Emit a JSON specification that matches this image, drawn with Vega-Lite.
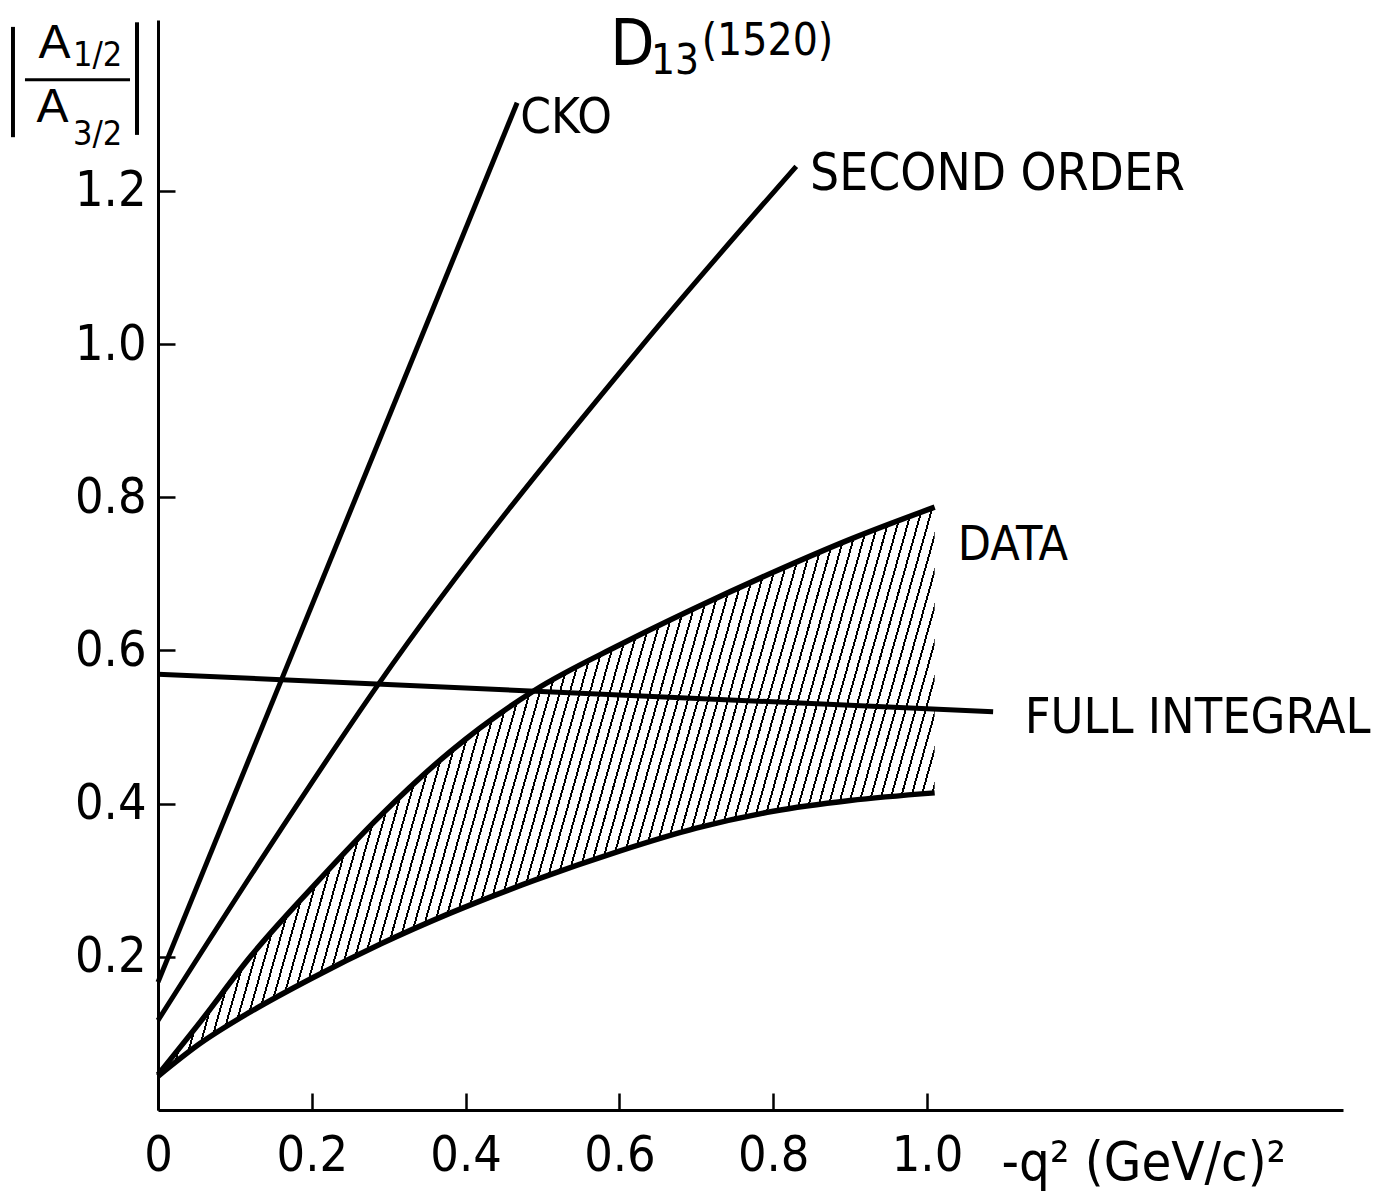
{
"$schema":"https://vega.github.io/schema/vega-lite/v6.json",
"width":1185,"height":1090,
"autosize":{"type":"none"},
"padding":{"left":158,"top":20,"right":50,"bottom":89},
"background":"white",
"config":{
 "view":{"stroke":null},
 "font":"DejaVu Sans Condensed, Liberation Sans, sans-serif",
 "axis":{"domainColor":"black","domainWidth":3,"tickColor":"black","tickWidth":2.5,"grid":false,"labelFont":"DejaVu Sans Condensed, Liberation Sans, sans-serif","labelFontSize":50,"labelColor":"black","title":null}
},
"datasets":{
 "band":[
  {"x":0,"lo":0.044,"hi":0.046},
  {"x":0.055,"lo":0.087,"hi":0.115},
  {"x":0.12,"lo":0.128,"hi":0.2},
  {"x":0.2,"lo":0.172,"hi":0.29},
  {"x":0.29,"lo":0.217,"hi":0.385},
  {"x":0.38,"lo":0.257,"hi":0.468},
  {"x":0.49,"lo":0.3,"hi":0.548},
  {"x":0.6,"lo":0.338,"hi":0.607},
  {"x":0.7,"lo":0.368,"hi":0.656},
  {"x":0.8,"lo":0.39,"hi":0.702},
  {"x":0.9,"lo":0.404,"hi":0.745},
  {"x":1.01,"lo":0.414,"hi":0.787}
 ],
 "curves":[
  {"s":"CKO","x":0,"y":0.167},{"s":"CKO","x":0.467,"y":1.315},
  {"s":"SO","x":0,"y":0.117},{"s":"SO","x":0.142,"y":0.339},{"s":"SO","x":0.286,"y":0.555},{"s":"SO","x":0.627,"y":0.995},{"s":"SO","x":0.83,"y":1.232},
  {"s":"FI","x":0,"y":0.569},{"s":"FI","x":1.086,"y":0.52}
 ]
},
"layer":[
 {"data":{"name":"band"},
  "mark":{"type":"area","interpolate":"monotone","stroke":null,
   "fill":{"gradient":"linear","x1":0.08,"y1":0,"x2":1.07,"y2":0.204,"stops":[
{"offset":0.125,"color":"#fff"},{"offset":0.125,"color":"#000"},{"offset":0.1275,"color":"#000"},{"offset":0.1275,"color":"#fff"},
{"offset":0.1375,"color":"#fff"},{"offset":0.1375,"color":"#000"},{"offset":0.14,"color":"#000"},{"offset":0.14,"color":"#fff"},
{"offset":0.15,"color":"#fff"},{"offset":0.15,"color":"#000"},{"offset":0.1525,"color":"#000"},{"offset":0.1525,"color":"#fff"},
{"offset":0.1625,"color":"#fff"},{"offset":0.1625,"color":"#000"},{"offset":0.165,"color":"#000"},{"offset":0.165,"color":"#fff"},
{"offset":0.175,"color":"#fff"},{"offset":0.175,"color":"#000"},{"offset":0.1775,"color":"#000"},{"offset":0.1775,"color":"#fff"},
{"offset":0.1875,"color":"#fff"},{"offset":0.1875,"color":"#000"},{"offset":0.19,"color":"#000"},{"offset":0.19,"color":"#fff"},
{"offset":0.2,"color":"#fff"},{"offset":0.2,"color":"#000"},{"offset":0.2025,"color":"#000"},{"offset":0.2025,"color":"#fff"},
{"offset":0.2125,"color":"#fff"},{"offset":0.2125,"color":"#000"},{"offset":0.215,"color":"#000"},{"offset":0.215,"color":"#fff"},
{"offset":0.225,"color":"#fff"},{"offset":0.225,"color":"#000"},{"offset":0.2275,"color":"#000"},{"offset":0.2275,"color":"#fff"},
{"offset":0.2375,"color":"#fff"},{"offset":0.2375,"color":"#000"},{"offset":0.24,"color":"#000"},{"offset":0.24,"color":"#fff"},
{"offset":0.25,"color":"#fff"},{"offset":0.25,"color":"#000"},{"offset":0.2525,"color":"#000"},{"offset":0.2525,"color":"#fff"},
{"offset":0.2625,"color":"#fff"},{"offset":0.2625,"color":"#000"},{"offset":0.265,"color":"#000"},{"offset":0.265,"color":"#fff"},
{"offset":0.275,"color":"#fff"},{"offset":0.275,"color":"#000"},{"offset":0.2775,"color":"#000"},{"offset":0.2775,"color":"#fff"},
{"offset":0.2875,"color":"#fff"},{"offset":0.2875,"color":"#000"},{"offset":0.29,"color":"#000"},{"offset":0.29,"color":"#fff"},
{"offset":0.3,"color":"#fff"},{"offset":0.3,"color":"#000"},{"offset":0.3025,"color":"#000"},{"offset":0.3025,"color":"#fff"},
{"offset":0.3125,"color":"#fff"},{"offset":0.3125,"color":"#000"},{"offset":0.315,"color":"#000"},{"offset":0.315,"color":"#fff"},
{"offset":0.325,"color":"#fff"},{"offset":0.325,"color":"#000"},{"offset":0.3275,"color":"#000"},{"offset":0.3275,"color":"#fff"},
{"offset":0.3375,"color":"#fff"},{"offset":0.3375,"color":"#000"},{"offset":0.34,"color":"#000"},{"offset":0.34,"color":"#fff"},
{"offset":0.35,"color":"#fff"},{"offset":0.35,"color":"#000"},{"offset":0.3525,"color":"#000"},{"offset":0.3525,"color":"#fff"},
{"offset":0.3625,"color":"#fff"},{"offset":0.3625,"color":"#000"},{"offset":0.365,"color":"#000"},{"offset":0.365,"color":"#fff"},
{"offset":0.375,"color":"#fff"},{"offset":0.375,"color":"#000"},{"offset":0.3775,"color":"#000"},{"offset":0.3775,"color":"#fff"},
{"offset":0.3875,"color":"#fff"},{"offset":0.3875,"color":"#000"},{"offset":0.39,"color":"#000"},{"offset":0.39,"color":"#fff"},
{"offset":0.4,"color":"#fff"},{"offset":0.4,"color":"#000"},{"offset":0.4025,"color":"#000"},{"offset":0.4025,"color":"#fff"},
{"offset":0.4125,"color":"#fff"},{"offset":0.4125,"color":"#000"},{"offset":0.415,"color":"#000"},{"offset":0.415,"color":"#fff"},
{"offset":0.425,"color":"#fff"},{"offset":0.425,"color":"#000"},{"offset":0.4275,"color":"#000"},{"offset":0.4275,"color":"#fff"},
{"offset":0.4375,"color":"#fff"},{"offset":0.4375,"color":"#000"},{"offset":0.44,"color":"#000"},{"offset":0.44,"color":"#fff"},
{"offset":0.45,"color":"#fff"},{"offset":0.45,"color":"#000"},{"offset":0.4525,"color":"#000"},{"offset":0.4525,"color":"#fff"},
{"offset":0.4625,"color":"#fff"},{"offset":0.4625,"color":"#000"},{"offset":0.465,"color":"#000"},{"offset":0.465,"color":"#fff"},
{"offset":0.475,"color":"#fff"},{"offset":0.475,"color":"#000"},{"offset":0.4775,"color":"#000"},{"offset":0.4775,"color":"#fff"},
{"offset":0.4875,"color":"#fff"},{"offset":0.4875,"color":"#000"},{"offset":0.49,"color":"#000"},{"offset":0.49,"color":"#fff"},
{"offset":0.5,"color":"#fff"},{"offset":0.5,"color":"#000"},{"offset":0.5025,"color":"#000"},{"offset":0.5025,"color":"#fff"},
{"offset":0.5125,"color":"#fff"},{"offset":0.5125,"color":"#000"},{"offset":0.515,"color":"#000"},{"offset":0.515,"color":"#fff"},
{"offset":0.525,"color":"#fff"},{"offset":0.525,"color":"#000"},{"offset":0.5275,"color":"#000"},{"offset":0.5275,"color":"#fff"},
{"offset":0.5375,"color":"#fff"},{"offset":0.5375,"color":"#000"},{"offset":0.54,"color":"#000"},{"offset":0.54,"color":"#fff"},
{"offset":0.55,"color":"#fff"},{"offset":0.55,"color":"#000"},{"offset":0.5525,"color":"#000"},{"offset":0.5525,"color":"#fff"},
{"offset":0.5625,"color":"#fff"},{"offset":0.5625,"color":"#000"},{"offset":0.565,"color":"#000"},{"offset":0.565,"color":"#fff"},
{"offset":0.575,"color":"#fff"},{"offset":0.575,"color":"#000"},{"offset":0.5775,"color":"#000"},{"offset":0.5775,"color":"#fff"},
{"offset":0.5875,"color":"#fff"},{"offset":0.5875,"color":"#000"},{"offset":0.59,"color":"#000"},{"offset":0.59,"color":"#fff"},
{"offset":0.6,"color":"#fff"},{"offset":0.6,"color":"#000"},{"offset":0.6025,"color":"#000"},{"offset":0.6025,"color":"#fff"},
{"offset":0.6125,"color":"#fff"},{"offset":0.6125,"color":"#000"},{"offset":0.615,"color":"#000"},{"offset":0.615,"color":"#fff"},
{"offset":0.625,"color":"#fff"},{"offset":0.625,"color":"#000"},{"offset":0.6275,"color":"#000"},{"offset":0.6275,"color":"#fff"},
{"offset":0.6375,"color":"#fff"},{"offset":0.6375,"color":"#000"},{"offset":0.64,"color":"#000"},{"offset":0.64,"color":"#fff"},
{"offset":0.65,"color":"#fff"},{"offset":0.65,"color":"#000"},{"offset":0.6525,"color":"#000"},{"offset":0.6525,"color":"#fff"},
{"offset":0.6625,"color":"#fff"},{"offset":0.6625,"color":"#000"},{"offset":0.665,"color":"#000"},{"offset":0.665,"color":"#fff"},
{"offset":0.675,"color":"#fff"},{"offset":0.675,"color":"#000"},{"offset":0.6775,"color":"#000"},{"offset":0.6775,"color":"#fff"},
{"offset":0.6875,"color":"#fff"},{"offset":0.6875,"color":"#000"},{"offset":0.69,"color":"#000"},{"offset":0.69,"color":"#fff"},
{"offset":0.7,"color":"#fff"},{"offset":0.7,"color":"#000"},{"offset":0.7025,"color":"#000"},{"offset":0.7025,"color":"#fff"},
{"offset":0.7125,"color":"#fff"},{"offset":0.7125,"color":"#000"},{"offset":0.715,"color":"#000"},{"offset":0.715,"color":"#fff"},
{"offset":0.725,"color":"#fff"},{"offset":0.725,"color":"#000"},{"offset":0.7275,"color":"#000"},{"offset":0.7275,"color":"#fff"},
{"offset":0.7375,"color":"#fff"},{"offset":0.7375,"color":"#000"},{"offset":0.74,"color":"#000"},{"offset":0.74,"color":"#fff"},
{"offset":0.75,"color":"#fff"},{"offset":0.75,"color":"#000"},{"offset":0.7525,"color":"#000"},{"offset":0.7525,"color":"#fff"},
{"offset":0.7625,"color":"#fff"},{"offset":0.7625,"color":"#000"},{"offset":0.765,"color":"#000"},{"offset":0.765,"color":"#fff"},
{"offset":0.775,"color":"#fff"},{"offset":0.775,"color":"#000"},{"offset":0.7775,"color":"#000"},{"offset":0.7775,"color":"#fff"},
{"offset":0.7875,"color":"#fff"},{"offset":0.7875,"color":"#000"},{"offset":0.79,"color":"#000"},{"offset":0.79,"color":"#fff"},
{"offset":0.8,"color":"#fff"},{"offset":0.8,"color":"#000"},{"offset":0.8025,"color":"#000"},{"offset":0.8025,"color":"#fff"},
{"offset":0.8125,"color":"#fff"},{"offset":0.8125,"color":"#000"},{"offset":0.815,"color":"#000"},{"offset":0.815,"color":"#fff"},
{"offset":0.825,"color":"#fff"},{"offset":0.825,"color":"#000"},{"offset":0.8275,"color":"#000"},{"offset":0.8275,"color":"#fff"},
{"offset":0.8375,"color":"#fff"},{"offset":0.8375,"color":"#000"},{"offset":0.84,"color":"#000"},{"offset":0.84,"color":"#fff"},
{"offset":0.85,"color":"#fff"},{"offset":0.85,"color":"#000"},{"offset":0.8525,"color":"#000"},{"offset":0.8525,"color":"#fff"},
{"offset":0.8625,"color":"#fff"},{"offset":0.8625,"color":"#000"},{"offset":0.865,"color":"#000"},{"offset":0.865,"color":"#fff"},
{"offset":0.875,"color":"#fff"},{"offset":0.875,"color":"#000"},{"offset":0.8775,"color":"#000"},{"offset":0.8775,"color":"#fff"},
{"offset":0.8875,"color":"#fff"},{"offset":0.8875,"color":"#000"},{"offset":0.89,"color":"#000"},{"offset":0.89,"color":"#fff"},
{"offset":0.9,"color":"#fff"},{"offset":0.9,"color":"#000"},{"offset":0.9025,"color":"#000"},{"offset":0.9025,"color":"#fff"},
{"offset":0.9125,"color":"#fff"},{"offset":0.9125,"color":"#000"},{"offset":0.915,"color":"#000"},{"offset":0.915,"color":"#fff"},
{"offset":0.925,"color":"#fff"},{"offset":0.925,"color":"#000"},{"offset":0.9275,"color":"#000"},{"offset":0.9275,"color":"#fff"},
{"offset":0.9375,"color":"#fff"},{"offset":0.9375,"color":"#000"},{"offset":0.94,"color":"#000"},{"offset":0.94,"color":"#fff"},
{"offset":0.95,"color":"#fff"},{"offset":0.95,"color":"#000"},{"offset":0.9525,"color":"#000"},{"offset":0.9525,"color":"#fff"},
{"offset":0.9625,"color":"#fff"},{"offset":0.9625,"color":"#000"},{"offset":0.965,"color":"#000"},{"offset":0.965,"color":"#fff"},
{"offset":0.975,"color":"#fff"},{"offset":0.975,"color":"#000"},{"offset":0.9775,"color":"#000"},{"offset":0.9775,"color":"#fff"},
{"offset":0.9875,"color":"#fff"},{"offset":0.9875,"color":"#000"},{"offset":0.99,"color":"#000"},{"offset":0.99,"color":"#fff"}
   ]}},
  "encoding":{
   "x":{"field":"x","type":"quantitative","scale":{"domain":[0,1.541],"nice":false,"zero":false},
        "axis":{"title":null,"values":[0,0.2,0.4,0.6,0.8,1],"labelExpr":"datum.value == 0 ? '0' : format(datum.value, '.1f')","tickSize":-17,"labelPadding":37,"labelFlush":false,"labelOverlap":false,"labelBound":false}},
   "y":{"field":"hi","type":"quantitative","scale":{"domain":[0,1.423],"nice":false,"zero":false},
        "axis":{"title":null,"values":[0.2,0.4,0.6,0.8,1,1.2],"format":".1f","tickSize":-17,"labelPadding":29,"labelFlush":false,"labelOverlap":false}},
   "y2":{"field":"lo"}
  }},
 {"data":{"name":"band"},"mark":{"type":"line","interpolate":"monotone","color":"black","strokeWidth":5.5},
  "encoding":{"x":{"field":"x","type":"quantitative"},"y":{"field":"hi","type":"quantitative"}}},
 {"data":{"name":"band"},"mark":{"type":"line","interpolate":"monotone","color":"black","strokeWidth":5.5},
  "encoding":{"x":{"field":"x","type":"quantitative"},"y":{"field":"lo","type":"quantitative"}}},
 {"data":{"name":"curves"},"mark":{"type":"line","interpolate":"monotone","color":"black","strokeWidth":5},
  "encoding":{"x":{"field":"x","type":"quantitative"},"y":{"field":"y","type":"quantitative"},"detail":{"field":"s"}}},
 {"data":{"values":[{}]},"mark":{"type":"text","text":"D","fontSize":64,"align":"left","baseline":"alphabetic","color":"black"},
  "encoding":{"x":{"datum":0.588},"y":{"datum":1.364}}},
 {"data":{"values":[{}]},"mark":{"type":"text","text":"13","fontSize":42,"align":"left","baseline":"alphabetic","color":"black"},
  "encoding":{"x":{"datum":0.641},"y":{"datum":1.353}}},
 {"data":{"values":[{}]},"mark":{"type":"text","text":"(1520)","fontSize":44,"align":"left","baseline":"alphabetic","color":"black"},
  "encoding":{"x":{"datum":0.707},"y":{"datum":1.377}}},
 {"data":{"values":[{}]},"mark":{"type":"text","text":"CKO","fontSize":49,"align":"left","baseline":"alphabetic","color":"black"},
  "encoding":{"x":{"datum":0.471},"y":{"datum":1.275}}},
 {"data":{"values":[{}]},"mark":{"type":"text","text":"SECOND ORDER","fontSize":51,"align":"left","baseline":"alphabetic","color":"black"},
  "encoding":{"x":{"datum":0.848},"y":{"datum":1.201}}},
 {"data":{"values":[{}]},"mark":{"type":"text","text":"DATA","fontSize":48,"align":"left","baseline":"alphabetic","color":"black"},
  "encoding":{"x":{"datum":1.04},"y":{"datum":0.718}}},
 {"data":{"values":[{}]},"mark":{"type":"text","text":"FULL INTEGRAL","fontSize":50,"align":"left","baseline":"alphabetic","color":"black"},
  "encoding":{"x":{"datum":1.127},"y":{"datum":0.492}}},
 {"data":{"values":[{}]},"mark":{"type":"text","text":"-q² (GeV/c)²","fontSize":54,"align":"left","baseline":"alphabetic","color":"black"},
  "encoding":{"x":{"datum":1.097},"y":{"datum":-0.0914}}},
 {"data":{"values":[{}]},"mark":{"type":"text","text":"A","font":"Liberation Sans","fontSize":48,"align":"center","baseline":"alphabetic","color":"black"},
  "encoding":{"x":{"datum":-0.1346},"y":{"datum":1.373}}},
 {"data":{"values":[{}]},"mark":{"type":"text","text":"1/2","fontSize":34,"align":"left","baseline":"alphabetic","color":"black"},
  "encoding":{"x":{"datum":-0.1105},"y":{"datum":1.363}}},
 {"data":{"values":[{}]},"mark":{"type":"text","text":"A","font":"Liberation Sans","fontSize":48,"align":"center","baseline":"alphabetic","color":"black"},
  "encoding":{"x":{"datum":-0.1372},"y":{"datum":1.29}}},
 {"data":{"values":[{}]},"mark":{"type":"text","text":"3/2","fontSize":34,"align":"left","baseline":"alphabetic","color":"black"},
  "encoding":{"x":{"datum":-0.1105},"y":{"datum":1.26}}},
 {"data":{"values":[{}]},"mark":{"type":"rule","color":"black","strokeWidth":4},
  "encoding":{"x":{"datum":-0.1886},"y":{"datum":1.414},"y2":{"datum":1.27}}},
 {"data":{"values":[{}]},"mark":{"type":"rule","color":"black","strokeWidth":4},
  "encoding":{"x":{"datum":-0.0273},"y":{"datum":1.42},"y2":{"datum":1.273}}},
 {"data":{"values":[{}]},"mark":{"type":"rule","color":"black","strokeWidth":3},
  "encoding":{"x":{"datum":-0.173},"x2":{"datum":-0.0364},"y":{"datum":1.345}}}
]
}
